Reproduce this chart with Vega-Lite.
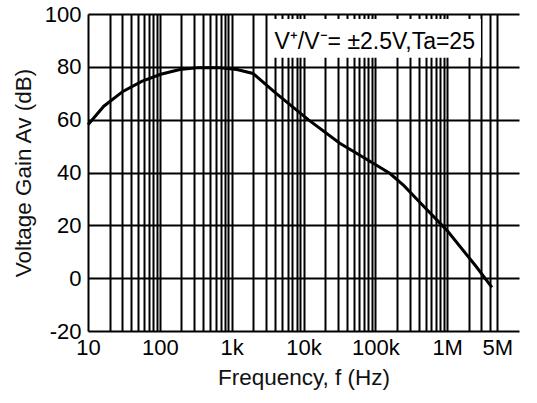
{
  "$schema": "https://vega.github.io/schema/vega-lite/v6.json",
  "width": 431,
  "height": 317,
  "autosize": {"type": "none"},
  "padding": {"left": 88, "top": 14, "right": 18, "bottom": 72},
  "background": "white",
  "config": {
    "view": {"stroke": null},
    "font": "Liberation Sans",
    "axis": {
      "gridColor": "black",
      "gridWidth": 2,
      "gridOpacity": 1,
      "domain": false,
      "ticks": false,
      "labelFont": "Liberation Sans",
      "labelFontSize": 22,
      "labelColor": "black",
      "titleFont": "Liberation Sans",
      "titleFontSize": 22.5,
      "titleFontWeight": "normal",
      "titleColor": "#111"
    }
  },
  "layer": [
    {
      "data": {
        "values": [
          {"f": 10, "gain": 58.1},
          {"f": 16.6, "gain": 65.1},
          {"f": 30.6, "gain": 70.7},
          {"f": 56, "gain": 74.5},
          {"f": 103, "gain": 77.2},
          {"f": 190, "gain": 79.0},
          {"f": 349, "gain": 79.7},
          {"f": 643, "gain": 79.7},
          {"f": 1180, "gain": 79.0},
          {"f": 1985, "gain": 77.5},
          {"f": 4000, "gain": 70.3},
          {"f": 11630, "gain": 60.0},
          {"f": 32000, "gain": 51.1},
          {"f": 100000, "gain": 43.0},
          {"f": 160000, "gain": 39.6},
          {"f": 250000, "gain": 35.0},
          {"f": 400000, "gain": 29.2},
          {"f": 1000000, "gain": 18.0},
          {"f": 2500000, "gain": 4.6},
          {"f": 4200000, "gain": -3.5}
        ]
      },
      "mark": {"type": "line", "color": "black", "strokeWidth": 3},
      "encoding": {
        "x": {
          "field": "f",
          "type": "quantitative",
          "scale": {"type": "log", "domain": [10, 5000000]},
          "axis": {
            "title": "Frequency, f (Hz)",
            "values": [10,20,30,40,50,60,70,80,90,100,200,300,400,500,600,700,800,900,1000,2000,3000,4000,5000,6000,7000,8000,9000,10000,20000,30000,40000,50000,60000,70000,80000,90000,100000,200000,300000,400000,500000,600000,700000,800000,900000,1000000,2000000,3000000,4000000,5000000],
            "labelExpr": "datum.value == 10 ? '10' : datum.value == 100 ? '100' : datum.value == 1000 ? '1k' : datum.value == 10000 ? '10k' : datum.value == 100000 ? '100k' : datum.value == 1000000 ? '1M' : datum.value == 5000000 ? '5M' : ''",
            "labelOverlap": false,
            "labelBound": false,
            "labelFlush": false,
            "labelPadding": 6,
            "titlePadding": 8
          }
        },
        "y": {
          "field": "gain",
          "type": "quantitative",
          "scale": {"domain": [-20, 100]},
          "axis": {
            "title": "Voltage Gain Av (dB)",
            "values": [-20, 0, 20, 40, 60, 80, 100],
            "labelExpr": "'' + datum.value",
            "labelPadding": 7,
            "titlePadding": 9
          }
        }
      }
    },
    {
      "data": {"values": [{}]},
      "mark": {"type": "rect", "fill": "white"},
      "encoding": {
        "x": {"datum": 3400, "type": "quantitative"},
        "x2": {"datum": 2950000},
        "y": {"datum": 98.1, "type": "quantitative"},
        "y2": {"datum": 83.4}
      }
    },
    {
      "data": {"values": [{}]},
      "mark": {"type": "text", "align": "left", "baseline": "alphabetic", "fontSize": 23, "font": "Liberation Sans", "color": "black"},
      "encoding": {
        "x": {"datum": 3950, "type": "quantitative"},
        "y": {"datum": 86.7, "type": "quantitative"},
        "text": {"value": "V⁺/V⁻= ±2.5V,Ta=25"}
      }
    }
  ]
}
